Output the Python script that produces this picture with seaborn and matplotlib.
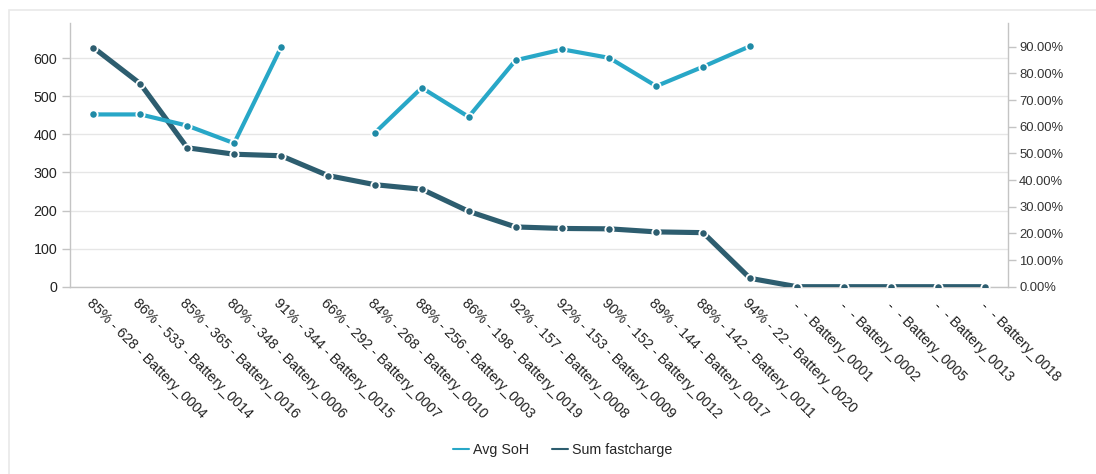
import numpy as np
import pandas as pd
import matplotlib
matplotlib.use("Agg")
import matplotlib.pyplot as plt
from matplotlib.lines import Line2D
from matplotlib.patches import Rectangle
import seaborn as sns

# ---- data ----
categories = [
    "85% - 628 - Battery_0004", "86% - 533 - Battery_0014", "85% - 365 - Battery_0016",
    "80% - 348 - Battery_0006", "91% - 344 - Battery_0015", "66% - 292 - Battery_0007",
    "84% - 268 - Battery_0010", "88% - 256 - Battery_0003", "86% - 198 - Battery_0019",
    "92% - 157 - Battery_0008", "92% - 153 - Battery_0009", "90% - 152 - Battery_0012",
    "89% - 144 - Battery_0017", "88% - 142 - Battery_0011", "94% - 22 - Battery_0020",
    " -  - Battery_0001", " -  - Battery_0002", " -  - Battery_0005",
    " -  - Battery_0013", " -  - Battery_0018",
]
sum_fastcharge = [628, 533, 365, 348, 344, 292, 268, 256, 198, 157,
                  153, 152, 144, 142, 22, 0, 0, 0, 0, 0]
avg_soh = [0.646, 0.646, 0.604, 0.538, 0.898, np.nan, 0.577, 0.746, 0.637, 0.849,
           0.890, 0.858, 0.752, 0.825, 0.902, np.nan, np.nan, np.nan, np.nan, np.nan]
left_ticks = [0, 100, 200, 300, 400, 500, 600]
right_ticks = [0.0, 0.1, 0.2, 0.3, 0.4, 0.5, 0.6, 0.7, 0.8, 0.9]

sns.set_theme(style="white")
plt.rcParams["font.family"] = ["Liberation Sans", "DejaVu Sans"]

DARK = "#2d5d6f"
LIGHT = "#28a7c7"
TXT = "#222222"
GRID = "#e6e6e6"
AX = "#c4c4c4"

fig = plt.figure(figsize=(10.96, 4.74), dpi=100)
# faint outer frame
fig.patches.append(Rectangle((9 / 1096, -0.1), 1.2, (474 - 10) / 474 + 0.1,
                             transform=fig.transFigure, fill=False,
                             edgecolor="#e9e9e9", linewidth=1.2, zorder=0))

ax = fig.add_axes([70 / 1096, 1 - 286.7 / 474, (1008 - 70) / 1096, (286.7 - 23) / 474])
ax2 = ax.twinx()

n = len(categories)
x = np.arange(n)

df_fc = pd.DataFrame({"x": x, "v": sum_fastcharge})
soh = np.array(avg_soh, dtype=float)
seg = np.cumsum(np.isnan(soh))
df_soh = pd.DataFrame({"x": x, "v": soh, "seg": seg}).dropna()

sns.lineplot(data=df_fc, x="x", y="v", ax=ax, color=DARK, linewidth=3.7,
             marker="o", markersize=6, markerfacecolor=DARK,
             markeredgecolor="white", markeredgewidth=1.3, sort=False, zorder=3)
sns.lineplot(data=df_soh, x="x", y="v", units="seg", estimator=None, ax=ax2,
             color=LIGHT, linewidth=3.0, marker="o", markersize=6,
             markerfacecolor="#1f8aa6", markeredgecolor="white",
             markeredgewidth=1.3, sort=False, zorder=3)

ax.set_xlim(-0.5, n - 0.5)
ax.set_ylim(0, 600 * (286.7 - 23) / 228.4)
ax2.set_ylim(0, 0.9 * (286.7 - 23) / 240)

ax.set_yticks(left_ticks)
ax.set_yticklabels([str(t) for t in left_ticks], fontsize=10.3, color=TXT)
ax2.set_yticks(right_ticks)
ax2.set_yticklabels([f"{t * 100:.2f}%" for t in right_ticks], fontsize=9.4, color="#333333")

ax.yaxis.grid(True, color=GRID, linewidth=1)
ax.set_axisbelow(True)
ax2.grid(False)

# x ticks at band boundaries, labels at centers
ax.set_xticks(np.arange(n + 1) - 0.5)
ax.set_xticklabels([])
ax.set_xticks(x, minor=True)
ax.set_xticklabels(categories, minor=True, rotation=-45, ha="left", va="top",
                   rotation_mode="anchor", fontsize=10.3, color=TXT)
ax.tick_params(axis="x", which="minor", length=0, pad=7)
ax.tick_params(axis="x", which="major", length=6, color=AX, width=1, direction="out")
ax.tick_params(axis="y", length=6, color=AX, width=1, direction="out", pad=3)
ax2.tick_params(axis="y", length=6, color=AX, width=1, direction="out", pad=2)

ax.set_xlabel("")
ax.set_ylabel("")
ax2.set_ylabel("")

for a in (ax, ax2):
    a.spines["top"].set_visible(False)
ax.spines["right"].set_visible(False)
ax.spines["left"].set_color(AX)
ax.spines["bottom"].set_color(AX)
ax2.spines["left"].set_visible(False)
ax2.spines["bottom"].set_visible(False)
ax2.spines["right"].set_color(AX)
for a in (ax, ax2):
    for s in a.spines.values():
        s.set_linewidth(1)

handles = [Line2D([0], [0], color=LIGHT, linewidth=1.5),
           Line2D([0], [0], color=DARK, linewidth=1.5)]
fig.legend(handles, ["Avg SoH", "Sum fastcharge"], loc="center",
           bbox_to_anchor=(563 / 1096, 1 - 450 / 474), ncol=2, frameon=False,
           fontsize=10.3, handlelength=1.1, handletextpad=0.3, columnspacing=1.6)

fig.savefig("out.png", dpi=100, facecolor="white")
